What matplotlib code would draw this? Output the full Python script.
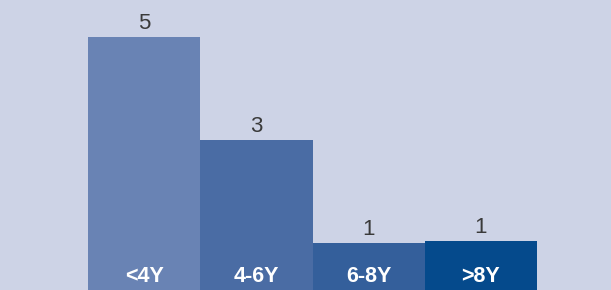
import matplotlib.pyplot as plt

# data
categories = ['<4Y', '4-6Y', '6-8Y', '>8Y']
values = [5, 3, 1.0, 1.03]
bar_colors = ['#6983b4', '#4a6ca4', '#345f9b', '#054a8c']

bg = '#cdd3e6'

fig = plt.figure(figsize=(6.11, 2.9), dpi=100, facecolor=bg)
ax = fig.add_axes([0, 0, 1, 1], facecolor=bg)

x = range(len(categories))
bars = ax.bar(x, values, width=1.0, color=bar_colors, linewidth=0)

# value labels above bars
for b, v in zip(bars, values):
    ax.annotate('{:.0f}'.format(v), (b.get_x() + b.get_width() / 2, b.get_height()),
                xytext=(0, 2.5), textcoords='offset points', ha='center', va='bottom',
                fontsize=16, color='#3a3a3a', family='Liberation Sans')

# category labels inside bars at bottom
for i, c in enumerate(categories):
    ax.text(i, 8 / 290, c, transform=ax.get_xaxis_transform(), ha='center',
            va='baseline', fontsize=15.5, fontweight='bold', color='white',
            family='Liberation Sans')

ax.set_xlim(-1.284, 4.159)
ax.set_ylim(0.087, 5.718)
ax.axis('off')

fig.savefig('out.png', dpi=100, facecolor=bg)
